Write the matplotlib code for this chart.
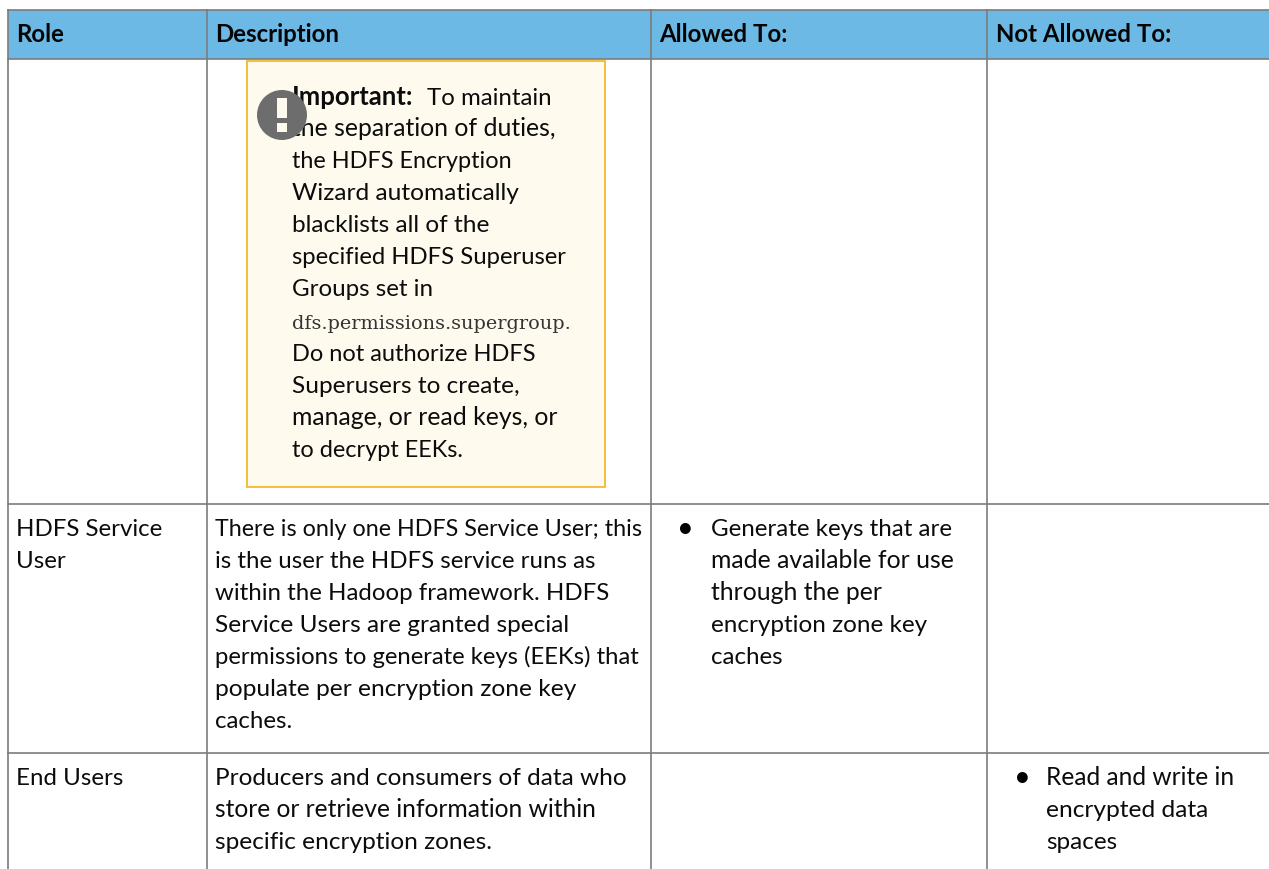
import matplotlib
matplotlib.use("Agg")
import matplotlib.pyplot as plt
from matplotlib.patches import Rectangle, Circle

W, H = 1269, 869

headers = ["Role", "Description", "Allowed To:", "Not Allowed To:"]

note_lead = "Important:"
note_first = "To maintain"
note_lines = [
    "the separation of duties,",
    "the HDFS Encryption",
    "Wizard automatically",
    "blacklists all of the",
    "specified HDFS Superuser",
    "Groups set in",
]
note_code = "dfs.permissions.supergroup."
note_tail = [
    "Do not authorize HDFS",
    "Superusers to create,",
    "manage, or read keys, or",
    "to decrypt EEKs.",
]

service_role = ["HDFS Service", "User"]
service_desc = [
    "There is only one HDFS Service User; this",
    "is the user the HDFS service runs as",
    "within the Hadoop framework. HDFS",
    "Service Users are granted special",
    "permissions to generate keys (EEKs) that",
    "populate per encryption zone key",
    "caches.",
]
service_allowed = [
    "Generate keys that are",
    "made available for use",
    "through the per",
    "encryption zone key",
    "caches",
]

end_role = ["End Users"]
end_desc = [
    "Producers and consumers of data who",
    "store or retrieve information within",
    "specific encryption zones.",
]
end_denied = ["Read and write in", "encrypted data", "spaces"]

# where each line ends in the reference, the substitute font runs a bit different
note_lines_end = [555, 513, 519, 490, 567, 433]
note_tail_end = [536, 519, 557, 464]
service_desc_end = [642, 595, 609, 568, 642, 576, 292]
service_allowed_end = [953, 953, 882, 927, 783]
end_desc_end = [627, 597, 492]
end_denied_end = [1234, 1208, 1117]

FONT = "Lato"
SIZE = 17.3
LINE_H = 32
col_x = [7.5, 207, 651, 987]
row_y = [59, 503.5, 753]
GRID = "#7c7c7c"
NOTE_BG = "#FEFAEE"
INK = "#0c0c0c"

plt.rcParams["font.family"] = [FONT, "DejaVu Sans"]


def block(ax, x, y, lines, ends=None, **kw):
    renderer = ax.figure.canvas.get_renderer()
    for i, line in enumerate(lines):
        t = ax.text(x, y + i * LINE_H, line, fontsize=SIZE, color=INK, va="baseline", **kw)
        if ends is not None:
            width = t.get_window_extent(renderer).width
            t.set_fontsize(SIZE * (ends[i] - x) / width)


def main():
    fig = plt.figure(figsize=(W / 100, H / 100), dpi=100)
    ax = fig.add_axes([0, 0, 1, 1])
    ax.set_xlim(0, W)
    ax.set_ylim(H, 0)
    ax.axis("off")

    # header band
    ax.add_patch(Rectangle((col_x[0], 10), W - col_x[0], 49, fc="#6BB9E4", ec="none", zorder=1))
    ax.plot([col_x[0], W], [10, 10], color=GRID, lw=1.2, zorder=2)
    for y in row_y:
        ax.plot([col_x[0], W], [y, y], color=GRID, lw=1.2, zorder=2)
    for x in col_x:
        ax.plot([x, x], [10, H], color=GRID, lw=1.2, zorder=2)

    for x, label in zip(col_x, headers):
        ax.text(x + 8.5, 41.5, label, fontsize=SIZE, fontweight="bold", color="#050505",
                va="baseline", zorder=3)

    # important note
    ax.add_patch(Rectangle((247, 60.5), 358, 426.5, fc=NOTE_BG, ec="#F4B92C", lw=1.3, zorder=2))
    ax.text(292, 105, note_lead, fontsize=18.5, fontweight="bold", color=INK, va="baseline", zorder=3)
    ax.text(427, 105, note_first, fontsize=SIZE, color=INK, va="baseline", zorder=3)
    block(ax, 292, 136.5, note_lines, note_lines_end, zorder=3)
    ax.text(292, 329, note_code, fontsize=13.9, family="DejaVu Serif", color="#333333",
            va="baseline", zorder=3)
    block(ax, 292, 361, note_tail, note_tail_end, zorder=3)

    ax.add_patch(Circle((282, 115), 25, fc="#6D6D6D", ec="none", zorder=4))
    ax.add_patch(Rectangle((277, 98), 10, 20, fc=NOTE_BG, ec="none", zorder=5))
    ax.add_patch(Rectangle((277, 123), 10, 9, fc=NOTE_BG, ec="none", zorder=5))

    # table body
    block(ax, 16, 536.5, service_role)
    block(ax, 215, 536.5, service_desc, service_desc_end)
    block(ax, 711, 536.5, service_allowed, service_allowed_end)
    ax.text(685, 537.5, "\u2022", fontsize=21, color="#000000", va="baseline", ha="center")

    block(ax, 16, 785, end_role)
    block(ax, 215, 785, end_desc, end_desc_end)
    block(ax, 1046, 785, end_denied, end_denied_end)
    ax.text(1022, 786, "\u2022", fontsize=21, color="#000000", va="baseline", ha="center")

    fig.savefig("out.png", dpi=100)
    plt.close(fig)


if __name__ == "__main__":
    main()
